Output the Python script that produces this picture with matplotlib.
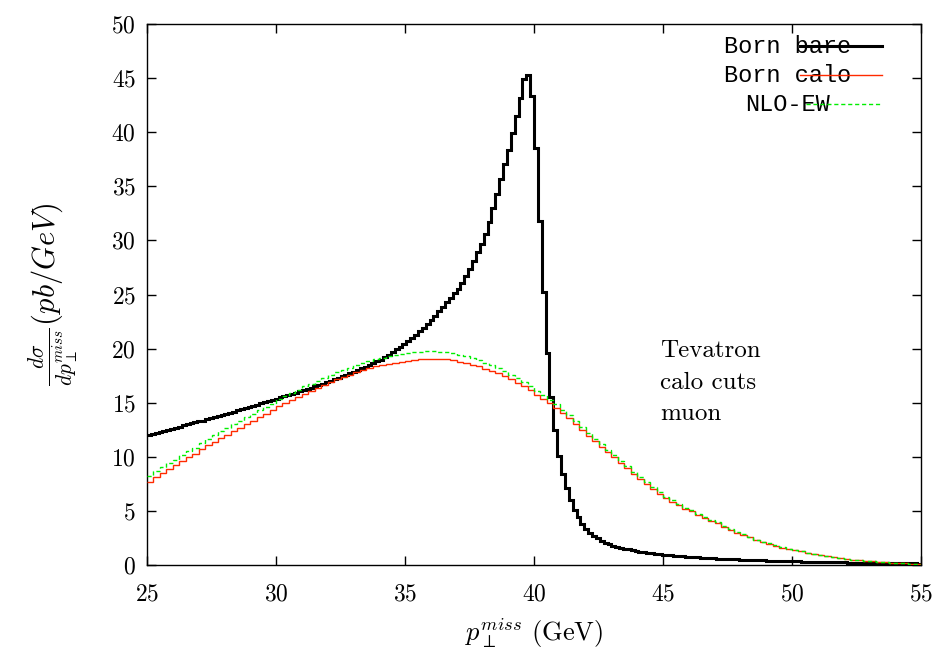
import numpy as np
import matplotlib
matplotlib.use("Agg")
import matplotlib.pyplot as plt

plt.rcParams["font.family"] = ["cmr10", "DejaVu Serif"]
plt.rcParams["mathtext.fontset"] = "cm"
plt.rcParams["axes.formatter.use_mathtext"] = True

# Born bare, 0.15 GeV bins from 25 to 55
born_bare = [
    12.0, 12.1, 12.2, 12.3, 12.4, 12.5, 12.6, 12.7, 12.8, 12.9,
    13.0, 13.1, 13.2, 13.3, 13.35, 13.45, 13.55, 13.65, 13.75, 13.85,
    13.95, 14.06, 14.17, 14.28, 14.39, 14.5, 14.61, 14.72, 14.83, 14.94,
    15.05, 15.16, 15.27, 15.38, 15.49, 15.6, 15.71, 15.82, 15.93, 16.04,
    16.15, 16.27, 16.39, 16.51, 16.63, 16.76, 16.89, 17.02, 17.15, 17.29,
    17.43, 17.57, 17.72, 17.87, 18.02, 18.18, 18.34, 18.5, 18.67, 18.84,
    18.95, 19.18, 19.42, 19.66, 19.92, 20.18, 20.45, 20.72, 21.01, 21.30,
    21.61, 21.93, 22.27, 22.65, 23.05, 23.45, 23.86, 24.27, 24.69, 25.11,
    25.5, 26.1, 26.7, 27.4, 28.1, 28.9, 29.7, 30.6, 31.7, 33.0,
    34.3, 35.7, 37.1, 38.4, 39.9, 41.5, 43.2, 44.9, 45.3, 43.3,
    38.5, 31.8, 25.2, 19.6, 15.5, 12.5, 10.1, 8.4, 7.1, 6.0,
    5.1, 4.4, 3.8, 3.35, 3.0, 2.7, 2.45, 2.25, 2.07, 1.92,
    1.80, 1.70, 1.60, 1.52, 1.44, 1.37, 1.30, 1.24, 1.18, 1.13,
    1.08, 1.03, 0.99, 0.95, 0.91, 0.88, 0.85, 0.82, 0.79, 0.76,
    0.74, 0.72, 0.70, 0.68, 0.66, 0.64, 0.62, 0.60, 0.58, 0.56,
    0.55, 0.53, 0.52, 0.50, 0.49, 0.47, 0.46, 0.45, 0.44, 0.42,
    0.41, 0.40, 0.39, 0.38, 0.37, 0.36, 0.35, 0.34, 0.33, 0.32,
    0.31, 0.30, 0.29, 0.29, 0.28, 0.27, 0.26, 0.26, 0.25, 0.24,
    0.24, 0.23, 0.22, 0.22, 0.21, 0.20, 0.20, 0.19, 0.19, 0.18,
    0.18, 0.17, 0.17, 0.16, 0.16, 0.15, 0.15, 0.14, 0.14, 0.13,
]

# Born calo, 0.25 GeV bins from 25 to 55
born_calo = [
    7.7, 8.1, 8.5, 8.9, 9.2, 9.6, 9.95, 10.3, 10.7, 11.05, 11.4, 11.75,
    12.05, 12.4, 12.7, 13.05, 13.35, 13.7, 14.0, 14.3, 14.65, 14.95, 15.25, 15.55,
    15.85, 16.1, 16.4, 16.65, 16.9, 17.15, 17.4, 17.6, 17.8, 18.0, 18.2, 18.35,
    18.45, 18.6, 18.7, 18.8, 18.9, 18.95, 19.0, 19.05, 19.05, 19.05, 19.0, 18.95,
    18.8, 18.65, 18.5, 18.35, 18.15, 17.95, 17.7, 17.45, 17.15, 16.85, 16.5, 16.15,
    15.75, 15.35, 14.95, 14.55, 14.05, 13.55, 13.05, 12.5, 11.95, 11.45, 10.95, 10.45,
    9.95, 9.45, 8.95, 8.45, 7.95, 7.5, 7.05, 6.6, 6.2, 5.85, 5.5, 5.2,
    4.95, 4.65, 4.35, 4.1, 3.85, 3.55, 3.25, 3.0, 2.8, 2.55, 2.3, 2.1,
    1.95, 1.8, 1.6, 1.48, 1.35, 1.25, 1.12, 1.02, 0.92, 0.82, 0.72, 0.63,
    0.55, 0.49, 0.43, 0.38, 0.34, 0.3, 0.25, 0.22, 0.18, 0.15, 0.12, 0.09,
]

# NLO-EW, 0.25 GeV bins from 25 to 55
nlo_ew = [
    8.25, 8.65, 9.05, 9.45, 9.75, 10.15, 10.5, 10.85, 11.3, 11.65, 12.0, 12.35,
    12.65, 13.0, 13.3, 13.65, 13.95, 14.3, 14.6, 14.9, 15.3, 15.6, 15.9, 16.2,
    16.5, 16.75, 17.05, 17.3, 17.55, 17.8, 18.05, 18.25, 18.45, 18.7, 18.9, 19.05,
    19.15, 19.3, 19.4, 19.5, 19.6, 19.65, 19.7, 19.75, 19.75, 19.72, 19.65, 19.6,
    19.45, 19.28, 19.1, 18.92, 18.7, 18.48, 18.2, 17.92, 17.6, 17.28, 16.9, 16.52,
    16.1, 15.68, 15.27, 14.85, 14.35, 13.83, 13.32, 12.77, 12.2, 11.69, 11.18, 10.67,
    10.16, 9.65, 9.14, 8.63, 8.12, 7.66, 7.2, 6.74, 6.33, 5.97, 5.62, 5.31,
    5.06, 4.75, 4.44, 4.18, 3.93, 3.62, 3.31, 3.06, 2.86, 2.6, 2.35, 2.14,
    1.99, 1.84, 1.63, 1.51, 1.38, 1.27, 1.14, 1.04, 0.94, 0.84, 0.74, 0.65,
    0.57, 0.5, 0.44, 0.39, 0.35, 0.31, 0.26, 0.23, 0.19, 0.16, 0.13, 0.1,
]

labels = ["Born bare", "Born calo", "NLO-EW"]
x_ticks = [25, 30, 35, 40, 45, 50, 55]
y_ticks = [0, 5, 10, 15, 20, 25, 30, 35, 40, 45, 50]

edges_bare = np.linspace(25, 55, len(born_bare) + 1)
edges_calo = np.linspace(25, 55, len(born_calo) + 1)

fig = plt.figure(figsize=(9.39, 6.55), dpi=100)
ax = fig.add_axes([147 / 939, 1 - 565 / 655, 774 / 939, 541 / 655])

ax.stairs(born_bare, edges_bare, baseline=None, color="black", lw=2.2, zorder=3)
ax.stairs(born_calo, edges_calo, baseline=None, color="#ff2a00", lw=1.0, zorder=4)
ax.stairs(nlo_ew, edges_calo, baseline=None, color="#00ee00", lw=1.0,
          linestyle=(0, (3, 2)), zorder=5)

ax.set_xlim(25, 55)
ax.set_ylim(0, 50)
ax.set_xticks(x_ticks)
ax.set_yticks(y_ticks)
ax.tick_params(direction="in", length=6.5, width=1.0, top=True, right=True,
               labelsize=17)
ax.tick_params(axis="x", pad=13)
ax.tick_params(axis="y", pad=8)
for s in ax.spines.values():
    s.set_linewidth(1.0)

ax.set_xlabel(r"$p_{\perp}^{miss}$ (GeV)", fontsize=19, labelpad=8)
ax.set_ylabel(r"$\frac{d\sigma}{dp_{\perp}^{miss}}(pb/GeV)$", fontsize=22, labelpad=22)

# gnuplot style key
key_y = [0.9593, 0.9057, 0.8521]
key_x = [0.7455, 0.7455, 0.7726]
key_style = [("black", 2.2, "-"), ("#ff2a00", 1.0, "-"), ("#00ee00", 1.0, (0, (3, 2)))]
for lab, xx, yy, (c, w, ls) in zip(labels, key_x, key_y, key_style):
    ax.text(xx, yy, lab, transform=ax.transAxes, ha="left", va="center",
            family="Liberation Mono", fontsize=17, zorder=6)
    x0 = 0.8437 if ls == "-" else 0.852
    ax.plot([x0, 0.9496], [yy, yy], transform=ax.transAxes, color=c, lw=w,
            linestyle=ls, zorder=7, clip_on=False)

for txt, yy in zip(["Tevatron", "calo cuts", "muon"], [0.3845, 0.3253, 0.268]):
    ax.text(0.6628, yy, txt, transform=ax.transAxes, ha="left", va="baseline",
            fontsize=18)

fig.savefig("out.png", dpi=100)
